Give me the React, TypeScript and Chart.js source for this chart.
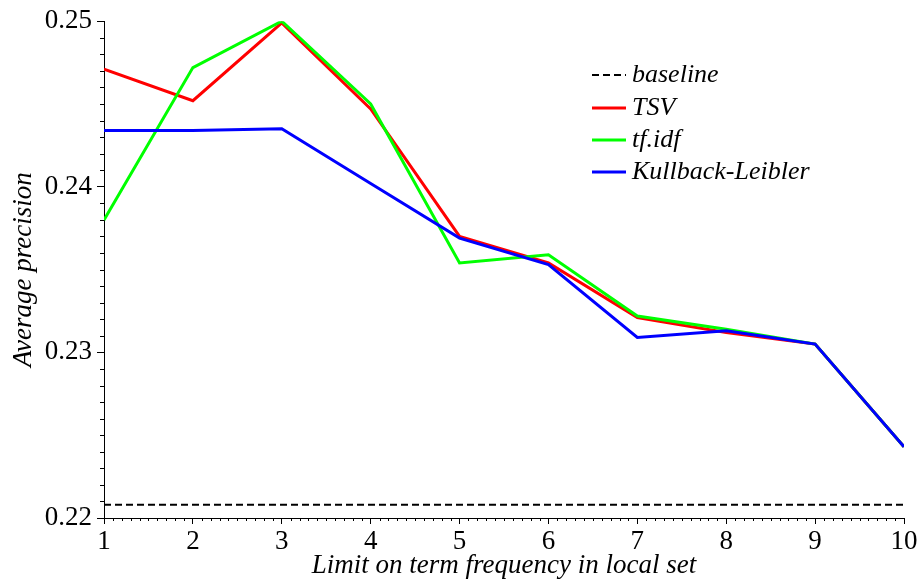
import React, { useEffect, useRef } from "react";
import { Chart, registerables } from "chart.js";

Chart.register(...registerables);

// Limit on term frequency in the local set
const limits = [1, 2, 3, 4, 5, 6, 7, 8, 9, 10];

// Average precision per weighting scheme
const tsv = [0.2471, 0.2452, 0.2499, 0.2447, 0.237, 0.2354, 0.2321, 0.2312, 0.2305, 0.2243];
const tfidf = [0.238, 0.2472, 0.25, 0.245, 0.2354, 0.2359, 0.2322, 0.2314, 0.2305, 0.2243];
const kullbackLeibler = [0.2434, 0.2434, 0.2435, 0.2402, 0.2369, 0.2353, 0.2309, 0.2313, 0.2305, 0.2243];
const baselineValue = 0.2208;

const seriesLabels = ["baseline", "TSV", "tf.idf", "Kullback-Leibler"];

const SERIF = '"Liberation Serif", "Times New Roman", Times, serif';

// Small secondary tick marks on both axes
const minorTicks = {
  id: "minorTicks",
  afterDraw(chart: any) {
    const { ctx } = chart;
    const xs = chart.scales.x;
    const ys = chart.scales.y;
    ctx.save();
    ctx.strokeStyle = "#000";
    ctx.lineWidth = 1;
    ctx.beginPath();
    for (let i = 0; i <= 30; i++) {
      if (i % 10 === 0) continue;
      const v = ys.min + (i * (ys.max - ys.min)) / 30;
      const py = Math.round(ys.getPixelForValue(v)) + 0.5;
      ctx.moveTo(ys.right - 4, py);
      ctx.lineTo(ys.right, py);
    }
    for (let i = 0; i <= 90; i++) {
      if (i % 10 === 0) continue;
      const v = xs.min + (i * (xs.max - xs.min)) / 90;
      const px = Math.round(xs.getPixelForValue(v)) + 0.5;
      ctx.moveTo(px, xs.top);
      ctx.lineTo(px, xs.top + 3);
    }
    ctx.stroke();
    ctx.restore();
  },
};

// Legend block in the upper right of the plot
const insetLegend = {
  id: "insetLegend",
  afterDraw(chart: any) {
    const { ctx } = chart;
    const sets = chart.data.datasets;
    const x0 = 592;
    const x1 = 626;
    const textX = 632;
    const rowY = [75, 108, 140, 172];
    ctx.save();
    ctx.font = `italic 26px ${SERIF}`;
    ctx.textBaseline = "middle";
    ctx.fillStyle = "#000";
    sets.forEach((ds: any, i: number) => {
      const y = rowY[i];
      ctx.beginPath();
      ctx.strokeStyle = ds.borderColor;
      ctx.lineWidth = ds.borderWidth;
      ctx.setLineDash(ds.borderDash || []);
      ctx.moveTo(x0, y);
      ctx.lineTo(x1, y);
      ctx.stroke();
      ctx.setLineDash([]);
      ctx.fillText(ds.label, textX, y);
    });
    ctx.restore();
  },
};

export default function App() {
  const canvasRef = useRef<HTMLCanvasElement | null>(null);

  useEffect(() => {
    if (!canvasRef.current) return;
    const toPoints = (vals: number[]) => vals.map((v, i) => ({ x: limits[i], y: v }));
    const chart = new Chart(canvasRef.current, {
      type: "line",
      data: {
        datasets: [
          {
            label: seriesLabels[0],
            data: limits.map((x) => ({ x, y: baselineValue })),
            borderColor: "#000000",
            borderWidth: 2,
            borderDash: [7, 4],
            pointRadius: 0,
            order: 3,
          },
          {
            label: seriesLabels[1],
            data: toPoints(tsv),
            borderColor: "#ff0000",
            borderWidth: 3,
            pointRadius: 0,
            order: 2,
          },
          {
            label: seriesLabels[2],
            data: toPoints(tfidf),
            borderColor: "#00ff00",
            borderWidth: 3,
            pointRadius: 0,
            order: 1,
          },
          {
            label: seriesLabels[3],
            data: toPoints(kullbackLeibler),
            borderColor: "#0000ff",
            borderWidth: 3,
            pointRadius: 0,
            order: 0,
          },
        ],
      },
      options: {
        animation: false,
        responsive: false,
        maintainAspectRatio: false,
        layout: { padding: { top: 18, right: 16, left: 0, bottom: 0 } },
        plugins: { legend: { display: false }, tooltip: { enabled: false } },
        scales: {
          x: {
            type: "linear",
            min: 1,
            max: 10,
            afterFit: (s: any) => {
              s.height = 65;
            },
            ticks: {
              stepSize: 1,
              color: "#000",
              padding: 2,
              maxRotation: 0,
              font: { family: SERIF, size: 27 },
            },
            grid: { drawOnChartArea: false, color: "#000", tickLength: 6 },
            border: { display: true, color: "#000", width: 1 },
            title: {
              display: true,
              text: "Limit on term frequency in local set",
              color: "#000",
              padding: { top: 0, bottom: 1 },
              font: { family: SERIF, size: 27, style: "italic" },
            },
          },
          y: {
            min: 0.22,
            max: 0.25,
            afterFit: (s: any) => {
              s.width = 104;
            },
            ticks: {
              stepSize: 0.01,
              color: "#000",
              padding: 5,
              font: { family: SERIF, size: 27 },
              callback: (v: any) => Number(v).toFixed(2),
            },
            grid: { drawOnChartArea: false, color: "#000", tickLength: 7 },
            border: { display: true, color: "#000", width: 1 },
            title: {
              display: true,
              text: "Average precision",
              color: "#000",
              padding: { top: 8, bottom: 0 },
              font: { family: SERIF, size: 27, style: "italic" },
            },
          },
        },
      },
      plugins: [minorTicks, insetLegend],
    });
    return () => chart.destroy();
  }, []);

  return (
    <div style={{ position: "fixed", left: 0, top: 0, width: 920, height: 583, background: "#fff" }}>
      <canvas ref={canvasRef} width={920} height={583} style={{ width: 920, height: 583 }} />
    </div>
  );
}
